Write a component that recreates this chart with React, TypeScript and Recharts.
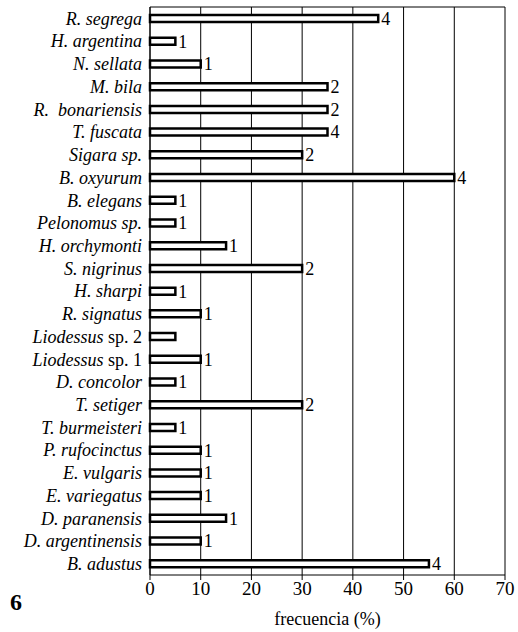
import React from 'react';
import { BarChart, Bar, XAxis, YAxis, CartesianGrid, LabelList } from 'recharts';

const species = [
  'R. segrega', 'H. argentina', 'N. sellata', 'M. bila', 'R.  bonariensis', 'T. fuscata',
  'Sigara sp.', 'B. oxyurum', 'B. elegans', 'Pelonomus sp.', 'H. orchymonti', 'S. nigrinus',
  'H. sharpi', 'R. signatus', 'Liodessus sp. 2', 'Liodessus sp. 1', 'D. concolor', 'T. setiger',
  'T. burmeisteri', 'P. rufocinctus', 'E. vulgaris', 'E. variegatus', 'D. paranensis',
  'D. argentinensis', 'B. adustus',
];
const frecuencia = [45, 5, 10, 35, 35, 35, 30, 60, 5, 5, 15, 30, 5, 10, 5, 10, 5, 30, 5, 10, 10, 10, 15, 10, 55];
const counts = ['4', '1', '1', '2', '2', '4', '2', '4', '1', '1', '1', '2', '1', '1', '', '1', '1', '2', '1', '1', '1', '1', '1', '1', '4'];
const xTicks = [0, 10, 20, 30, 40, 50, 60, 70];

const data = species.map((name, i) => ({ name, value: frecuencia[i], n: counts[i] }));

const FONT = "'Liberation Serif', 'Times New Roman', serif";

const YTick = (props: any) => {
  const { x, y, payload } = props;
  const name: string = payload.value;
  const m = name.match(/^(Liodessus)( sp\. \d)$/);
  return (
    <text x={x} y={y} dy="0.355em" textAnchor="end" fontSize={18} fill="#000" fontFamily={FONT} style={{ whiteSpace: 'pre' }}>
      {m ? (
        <>
          <tspan fontStyle="italic">{m[1]}</tspan>
          <tspan fontStyle="normal">{m[2]}</tspan>
        </>
      ) : (
        <tspan fontStyle="italic">{name}</tspan>
      )}
    </text>
  );
};

export default function App() {
  return (
    <div style={{ position: 'absolute', left: 0, top: 0, width: 518, height: 632, background: '#fff' }}>
      <BarChart
        width={518}
        height={632}
        data={data}
        layout="vertical"
        margin={{ top: 7, right: 13, left: 0, bottom: 0 }}
        barSize={7}
      >
        <CartesianGrid
          stroke="#000"
          strokeWidth={1}
          vertical={true}
          horizontal={true}
          horizontalCoordinatesGenerator={(p: any) => [p.offset.top]}
        />
        <XAxis
          type="number"
          domain={[0, 70]}
          ticks={xTicks}
          height={57}
          tickSize={5}
          tickMargin={2}
          stroke="#000"
          tick={{ fontSize: 19, fontFamily: FONT, fill: '#000' }}
          label={{ value: 'frecuencia (%)', position: 'insideBottom', offset: 7, fontSize: 18, fontFamily: FONT, fill: '#000' }}
        />
        <YAxis
          type="category"
          dataKey="name"
          width={150}
          interval={0}
          tickLine={false}
          stroke="#000"
          tick={<YTick />}
        />
        <Bar dataKey="value" fill="#fff" stroke="#000" strokeWidth={2.5} isAnimationActive={false}>
          <LabelList dataKey="n" position="right" offset={3} fontSize={18} fontFamily={FONT} fill="#000" />
        </Bar>
      </BarChart>
      <div style={{ position: 'absolute', left: 10, top: 590, fontFamily: FONT, fontWeight: 'bold', fontSize: 24, color: '#000', lineHeight: '24px' }}>6</div>
    </div>
  );
}
